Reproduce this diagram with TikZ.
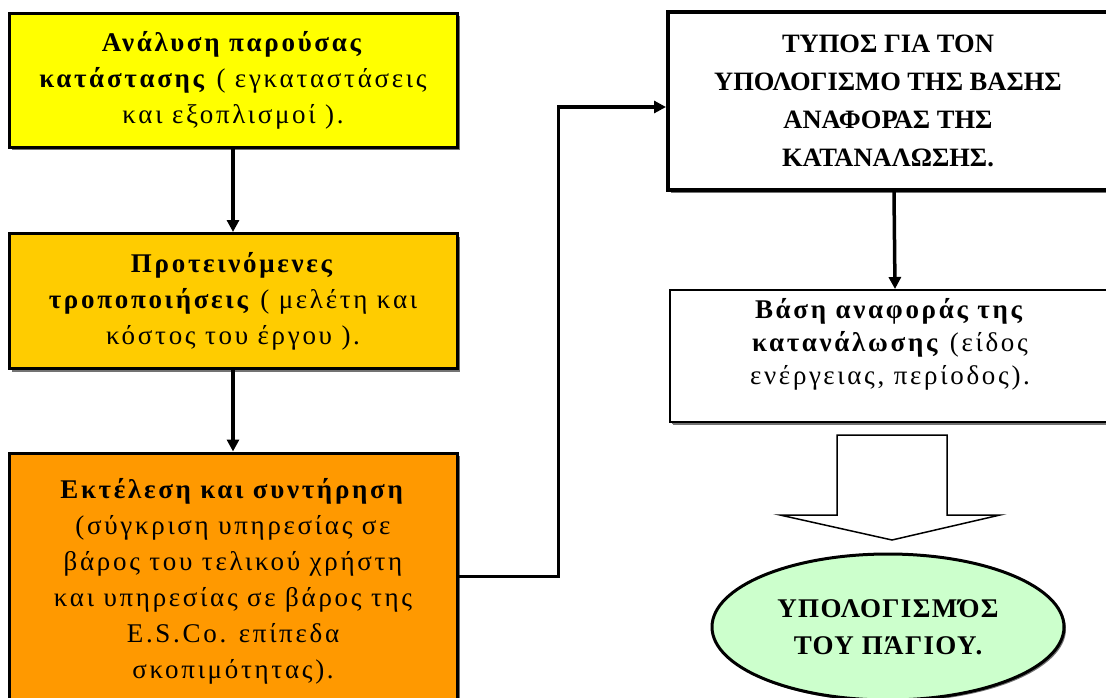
\documentclass[tikz,border=0pt]{standalone}
\usepackage{fontspec}
\setmainfont{Liberation Serif}
\usetikzlibrary{arrows.meta,shadows,shapes.geometric}
\definecolor{boxyellow}{HTML}{FFFF00}
\definecolor{boxgold}{HTML}{FFCC00}
\definecolor{boxorange}{HTML}{FF9900}
\definecolor{palegreen}{HTML}{CCFFCC}
\begin{document}
\begin{tikzpicture}[x=1pt,y=-1pt,
  box/.style={draw=black, line width=3pt, rectangle, inner sep=0pt,
    drop shadow={shadow xshift=3pt, shadow yshift=-3pt, fill=black!55, opacity=1}},
  txt/.style={align=center, inner sep=0pt,
    font=\fontsize{27}{36}\selectfont\addfontfeature{LetterSpace=10}},
  conn/.style={line width=3.5pt, -{Triangle[length=12pt,width=12pt]}}]
\useasboundingbox (0,0) rectangle (1106,697);
\begin{scope}
\clip (0,0) rectangle (1106,697);

% left column: the three stages
\node[box, fill=boxyellow, minimum width=448pt, minimum height=134pt, txt] (b1) at (233,80)
  {\textbf{Ανάλυση παρούσας}\\\textbf{κατάστασης} ( εγκαταστάσεις\\και εξοπλισμοί ).};
\node[box, fill=boxgold, minimum width=448pt, minimum height=135pt, txt] (b2) at (233,301)
  {\textbf{Προτεινόμενες}\\\textbf{τροποποιήσεις} ( μελέτη και\\κόστος του έργου ).};
\node[box, fill=boxorange, minimum width=448pt, minimum height=247pt] (b3) at (233,576.5) {};
\node[txt] (t3) at (233,581)
  {\textbf{Εκτέλεση και συντήρηση}\\(σύγκριση υπηρεσίας σε\\βάρος του τελικού χρήστη\\και υπηρεσίας σε βάρος της\\E.S.Co. επίπεδα\\σκοπιμότητας).};

% right column
\node[box, fill=white, line width=4pt, minimum width=452pt, minimum height=178pt] (b4) at (894,101) {};
\node[align=center, inner sep=0pt, font=\bfseries\fontsize{26.5}{38}\selectfont] (t4) at (888,101)
  {ΤΥΠΟΣ ΓΙΑ ΤΟΝ\\ΥΠΟΛΟΓΙΣΜΟ ΤΗΣ ΒΑΣΗΣ\\ΑΝΑΦΟΡΑΣ ΤΗΣ\\ΚΑΤΑΝΑΛΩΣΗΣ.};
\node[box, fill=white, line width=2pt, minimum width=450pt, minimum height=132pt,
  drop shadow={shadow xshift=2pt, shadow yshift=-2pt, fill=black!55, opacity=1}] (b5) at (895,356) {};
\node[txt, font=\fontsize{27}{33}\selectfont\addfontfeature{LetterSpace=10}] (t5) at (890,344)
  {\textbf{Βάση αναφοράς της}\\\textbf{κατανάλωσης} (είδος\\ενέργειας, περίοδος).};

% hollow block arrow
\draw[line width=1.5pt, fill=white] (837,435) -- (947,435) -- (947,515) -- (1000,515)
  -- (892,540) -- (780,515) -- (837,515) -- cycle;

\node[ellipse, draw=black, line width=3pt, fill=palegreen, minimum width=352pt, minimum height=146pt,
  drop shadow={shadow xshift=2pt, shadow yshift=-2pt, fill=black!55, opacity=1},
  align=center, inner sep=0pt,
  font=\bfseries\fontsize{27}{37}\selectfont\addfontfeature{LetterSpace=5}] (e) at (888,627)
  {ΥΠΟΛΟΓΙΣΜΌΣ\\ΤΟΥ ΠΆΓΙΟΥ.};

% connectors
\draw[conn] (b1.south) -- (b2.north);
\draw[conn] (b2.south) -- (b3.north);
\draw[conn] (b3.east) -- ++(100,0) |- ([yshift=-6pt]b4.west);
\draw[conn] (b4.south) -- (b5.north);
\end{scope}
\end{tikzpicture}
\end{document}
